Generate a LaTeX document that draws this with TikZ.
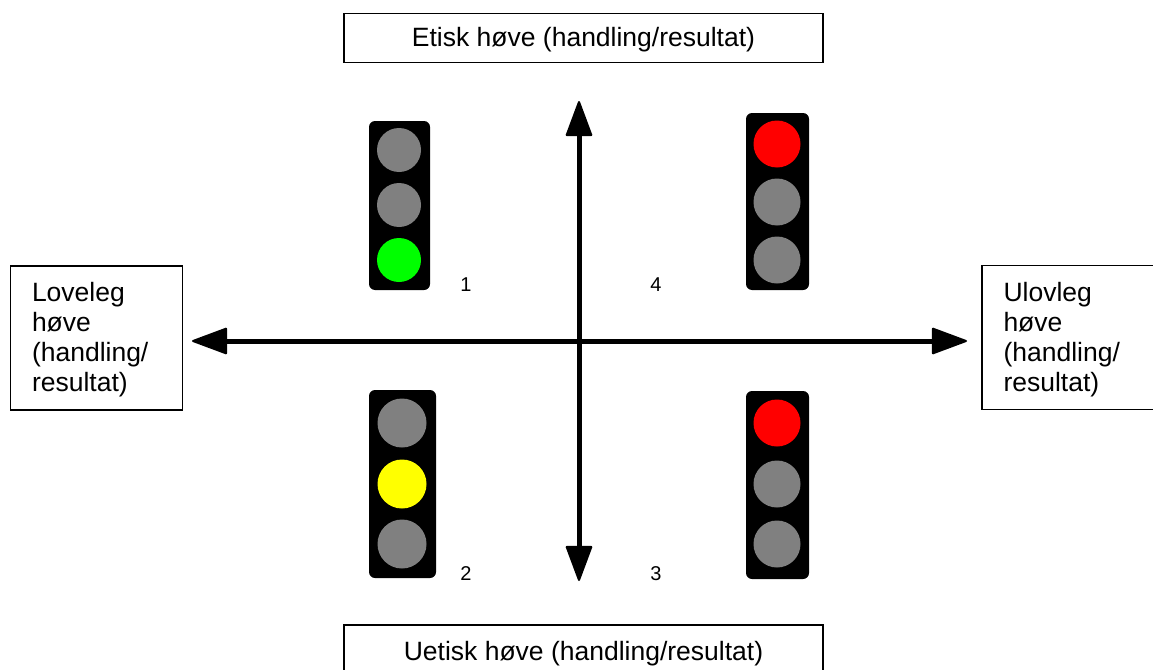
\documentclass[tikz,border=0pt]{standalone}
\usepackage{fontspec}
\setmainfont{Liberation Sans}
\usetikzlibrary{arrows.meta,positioning}
\definecolor{lampyellow}{RGB}{255,255,0}
\definecolor{lampgreen}{RGB}{0,255,0}
\definecolor{lampred}{RGB}{255,0,0}
\definecolor{lampgray}{RGB}{128,128,128}

\begin{document}
\begin{tikzpicture}[x=1pt,y=-1pt,>={Triangle[length=37pt,width=27pt,line width=2pt,round]},
        axis line/.style={<->,line width=5pt,black},
        label box/.style={draw,line width=1.3pt,inner sep=0pt,font=\fontsize{26.5}{30}\selectfont},
        side box/.style={label box,minimum width=172pt,minimum height=144pt,align=left,text width=129pt,
            execute at begin node={\rule{0pt}{23pt}}},
        wide box/.style={label box,minimum width=479pt,minimum height=49pt,text height=21pt,text depth=4pt},
        light case/.style={fill=black,rounded corners=6pt,inner sep=0pt},
        lamp/.style={circle,inner sep=0pt,fill=#1},
        number/.style={font=\fontsize{20}{24}\selectfont,inner sep=0pt}]
    \useasboundingbox (0,0) rectangle (1153,669);

    \node[wide box] (top) at (583.5,38) {Etisk høve (handling/resultat)};
    \node[wide box,minimum height=54pt] (bottom) at (583.5,652) {Uetisk høve (handling/resultat)};
    \node[side box] (lawful) at (96.5,338) {Loveleg\\høve\\(handling/\\resultat)};
    \node[side box] (unlawful) at (1068,337.5) {Ulovleg\\høve\\(handling/\\resultat)};

    \coordinate (north) at (579,101);
    \coordinate (south) at (579,581);
    \coordinate (west) at (192,341);
    \coordinate (east) at (967,341);
    \draw[axis line] (west) -- (east);
    \draw[axis line] (north) -- (south);

    % light 1
    \node[light case,minimum width=61pt,minimum height=169pt] (case1) at (399.5,205.5) {};
    \node[lamp=lampgray,minimum size=44pt] (a1) at (399,150) {};
    \node[lamp=lampgray,minimum size=44pt] (a2) at (399,205) {};
    \node[lamp=lampgreen,minimum size=44pt] (a3) at (399,260) {};

    % light 2
    \node[light case,minimum width=67pt,minimum height=188pt] (case2) at (402.5,484) {};
    \node[lamp=lampgray,minimum size=49pt] (b1) at (402,423) {};
    \node[lamp=lampyellow,minimum size=49pt] (b2) at (402,484) {};
    \node[lamp=lampgray,minimum size=49pt] (b3) at (402,544) {};

    % light 3
    \node[light case,minimum width=63pt,minimum height=188pt] (case3) at (777.5,485) {};
    \node[lamp=lampred,minimum size=47pt] (c1) at (777,423) {};
    \node[lamp=lampgray,minimum size=47pt] (c2) at (777,484) {};
    \node[lamp=lampgray,minimum size=47pt] (c3) at (777,544) {};

    % light 4
    \node[light case,minimum width=63pt,minimum height=177pt] (case4) at (777.5,201.5) {};
    \node[lamp=lampred,minimum size=47pt] (d1) at (777,144) {};
    \node[lamp=lampgray,minimum size=47pt] (d2) at (777,202) {};
    \node[lamp=lampgray,minimum size=47pt] (d3) at (777,260) {};

    \node[number] (n1) at (466,285) {1};
    \node[number] (n2) at (466,574) {2};
    \node[number] (n3) at (656,574) {3};
    \node[number] (n4) at (656,285) {4};
\end{tikzpicture}
\end{document}
